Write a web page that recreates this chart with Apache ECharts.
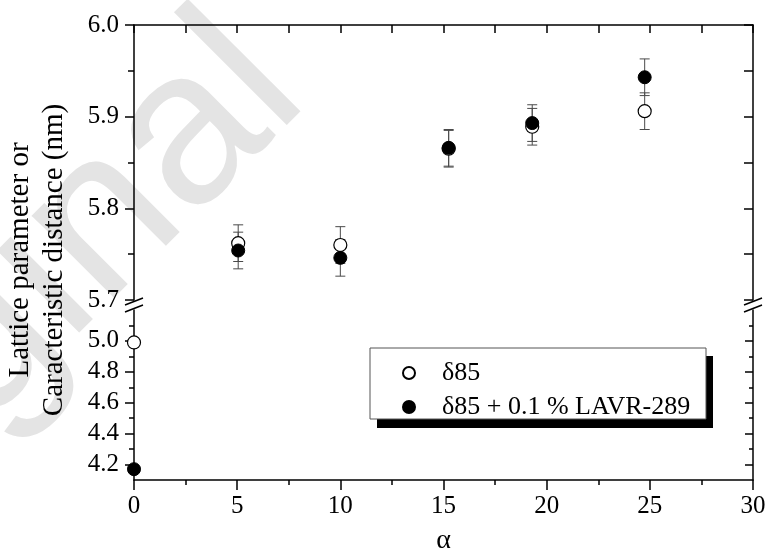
<!DOCTYPE html>
<html><head><meta charset="utf-8">
<script src="https://cdn.jsdelivr.net/npm/echarts@6/dist/echarts.min.js"></script>
<style>html,body{margin:0;padding:0;background:#fff}#c{width:765px;height:553px}</style>
</head><body><div id="c"></div>
<script>
// ---- data ----
const alpha = [0, 5.05, 10, 15.25, 19.3, 24.75];
const delta85 = [4.99, 5.762, 5.760, 5.865, 5.889, 5.906];
const delta85Err = [0.01, 0.02, 0.02, 0.02, 0.02, 0.02];
const lavr = [4.17, 5.754, 5.746, 5.866, 5.893, 5.943];
const lavrErr = [0.01, 0.02, 0.02, 0.02, 0.02, 0.02];
const lowerTicks = [4.2, 4.4, 4.6, 4.8, 5.0];
const lowerMinorTicks = [4.3, 4.5, 4.7, 4.9, 5.1];
const seriesNames = ['δ85', 'δ85 + 0.1 % LAVR-289'];
const breakValue = 5.5;

// ---- layout ----
const L = 134, R = 753, UT = 25, UB = 300, LT = 310, LB = 480;
const SERIF = '"Liberation Serif","Times New Roman",serif';
const chart = echarts.init(document.getElementById('c'), null, {renderer: 'canvas'});

function pts(xs, ys, es, upper) {
  const out = [];
  for (let i = 0; i < xs.length; i++) {
    if ((ys[i] >= breakValue) === upper) out.push([xs[i], ys[i], es[i]]);
  }
  return out;
}
function errSeries(data, xi, yi) {
  return {
    type: 'custom', xAxisIndex: xi, yAxisIndex: yi, z: 1, silent: true,
    data: data,
    renderItem: function (params, api) {
      const x = api.value(0), y = api.value(1), e = api.value(2);
      const top = api.coord([x, y + e]), bot = api.coord([x, y - e]);
      const st = {stroke: '#4a4a4a', lineWidth: 1};
      const w = 5;
      return {type: 'group', children: [
        {type: 'line', shape: {x1: top[0], y1: top[1], x2: bot[0], y2: bot[1]}, style: st},
        {type: 'line', shape: {x1: top[0]-w, y1: top[1], x2: top[0]+w, y2: top[1]}, style: st},
        {type: 'line', shape: {x1: bot[0]-w, y1: bot[1], x2: bot[0]+w, y2: bot[1]}, style: st}
      ]};
    }
  };
}
const openStyle = {color: '#fff', borderColor: '#000', borderWidth: 1.2, opacity: 1};
const fillStyle = {color: '#000', borderColor: '#000', borderWidth: 1, opacity: 1};
function scat(name, data, xi, yi, style, z) {
  return {name: name, type: 'scatter', xAxisIndex: xi, yAxisIndex: yi, data: data,
    symbol: 'circle', symbolSize: 13, itemStyle: style, z: z, clip: false,
    emphasis: {disabled: true}};
}
const lineSt = {color: '#000', width: 1.5};
const labelSt = {color: '#000', fontFamily: SERIF, fontSize: 25};

const option = {
  backgroundColor: '#fff',
  animation: false,
  grid: [
    {left: L, right: 765 - R, top: UT, height: UB - UT, containLabel: false, outerBoundsMode: 'none'},
    {left: L, right: 765 - R, top: LT, height: LB - LT, containLabel: false, outerBoundsMode: 'none'}
  ],
  xAxis: [
    {gridIndex: 0, type: 'value', position: 'top', min: 0, max: 30, interval: 2.5,
     axisLine: {show: true, lineStyle: lineSt}, axisTick: {show: true, inside: true, length: 8, lineStyle: lineSt},
     axisLabel: {show: false}, splitLine: {show: false}},
    {gridIndex: 1, type: 'value', position: 'bottom', min: 0, max: 30, interval: 5,
     axisLine: {show: true, onZero: false, lineStyle: lineSt}, axisTick: {show: true, length: 10, lineStyle: lineSt},
     minorTick: {show: true, splitNumber: 2, length: 5, lineStyle: lineSt},
     axisLabel: Object.assign({margin: 14}, labelSt), splitLine: {show: false},
     name: 'α', nameLocation: 'middle', nameGap: 47, nameTextStyle: {color: '#000', fontFamily: SERIF, fontSize: 28}}
  ],
  yAxis: [
    {gridIndex: 0, type: 'value', position: 'left', min: 5.7, max: 6.0, interval: 0.1,
     axisLine: {show: true, onZero: false, lineStyle: lineSt}, axisTick: {show: true, length: 9, lineStyle: lineSt},
     minorTick: {show: true, splitNumber: 2, length: 6, lineStyle: lineSt},
     axisLabel: Object.assign({margin: 15, formatter: v => v.toFixed(1)}, labelSt), splitLine: {show: false}},
    {gridIndex: 0, type: 'value', position: 'right', min: 5.7, max: 6.0, interval: 0.05,
     axisLine: {show: true, onZero: false, lineStyle: lineSt}, axisTick: {show: true, inside: true, length: 9, lineStyle: lineSt},
     axisLabel: {show: false}, splitLine: {show: false}},
    {gridIndex: 1, type: 'value', position: 'left', min: 4.1, max: 5.2,
     axisLine: {show: true, onZero: false, lineStyle: lineSt},
     axisTick: {show: true, length: 9, customValues: lowerTicks, lineStyle: lineSt},
     axisLabel: Object.assign({margin: 15, customValues: lowerTicks, formatter: v => v.toFixed(1)}, labelSt),
     splitLine: {show: false}},
    {gridIndex: 1, type: 'value', position: 'left', min: 4.1, max: 5.2,
     axisLine: {show: false}, axisTick: {show: true, length: 5, customValues: lowerMinorTicks, lineStyle: lineSt},
     axisLabel: {show: false}, splitLine: {show: false}},
    {gridIndex: 1, type: 'value', position: 'right', min: 4.1, max: 5.2,
     axisLine: {show: true, onZero: false, lineStyle: lineSt},
     axisTick: {show: true, inside: true, length: 8, customValues: lowerTicks, lineStyle: lineSt},
     axisLabel: {show: false}, splitLine: {show: false}},
    {gridIndex: 1, type: 'value', position: 'right', min: 4.1, max: 5.2,
     axisLine: {show: false}, axisTick: {show: true, inside: true, length: 4, customValues: lowerMinorTicks, lineStyle: lineSt},
     axisLabel: {show: false}, splitLine: {show: false}}
  ],
  legend: {
    left: 397, top: 354, orient: 'vertical', itemGap: 6, itemWidth: 12, itemHeight: 12,
    icon: 'circle', selectedMode: false, z: 20,
    data: seriesNames,
    textStyle: {color: '#000', fontFamily: SERIF, fontSize: 26, lineHeight: 28, padding: [0, 0, 0, 22]}
  },
  graphic: [
    {type: 'text', z: -10, silent: true, x: 268, y: 58, rotation: 45 * Math.PI / 180,
     style: {text: 'Original', fill: '#e4e4e4', font: '220px "Liberation Sans", Arial, sans-serif',
             textAlign: 'right', textVerticalAlign: 'middle'}},
    {type: 'rect', z: 10, silent: true, shape: {x: 377, y: 356, width: 336, height: 72}, style: {fill: '#000'}},
    {type: 'rect', z: 11, silent: true, shape: {x: 370, y: 348, width: 336, height: 71},
     style: {fill: '#fff', stroke: '#555', lineWidth: 1}},
    {type: 'text', silent: true, x: 37, y: 260, rotation: Math.PI / 2,
     style: {text: 'Lattice parameter or\nCaracteristic distance (nm)', fill: '#000',
             font: '29px ' + SERIF, lineHeight: 34, textAlign: 'center', textVerticalAlign: 'middle'}},
    // axis break marks
    {type: 'line', silent: true, shape: {x1: L - 9, y1: 305, x2: L + 9, y2: 298}, style: {stroke: '#000', lineWidth: 1.5}},
    {type: 'line', silent: true, shape: {x1: L - 9, y1: 312, x2: L + 9, y2: 305}, style: {stroke: '#000', lineWidth: 1.5}},
    {type: 'line', silent: true, shape: {x1: R - 9, y1: 305, x2: R + 9, y2: 298}, style: {stroke: '#000', lineWidth: 1.5}},
    {type: 'line', silent: true, shape: {x1: R - 9, y1: 312, x2: R + 9, y2: 305}, style: {stroke: '#000', lineWidth: 1.5}}
  ],
  series: [
    errSeries(pts(alpha, delta85, delta85Err, true), 0, 0),
    errSeries(pts(alpha, lavr, lavrErr, true), 0, 0),
    errSeries(pts(alpha, delta85, delta85Err, false), 1, 2),
    errSeries(pts(alpha, lavr, lavrErr, false), 1, 2),
    scat(seriesNames[0], pts(alpha, delta85, delta85Err, true), 0, 0, openStyle, 3),
    scat(seriesNames[0], pts(alpha, delta85, delta85Err, false), 1, 2, openStyle, 3),
    scat(seriesNames[1], pts(alpha, lavr, lavrErr, true), 0, 0, fillStyle, 4),
    scat(seriesNames[1], pts(alpha, lavr, lavrErr, false), 1, 2, fillStyle, 4)
  ]
};
chart.setOption(option);
</script></body></html>
